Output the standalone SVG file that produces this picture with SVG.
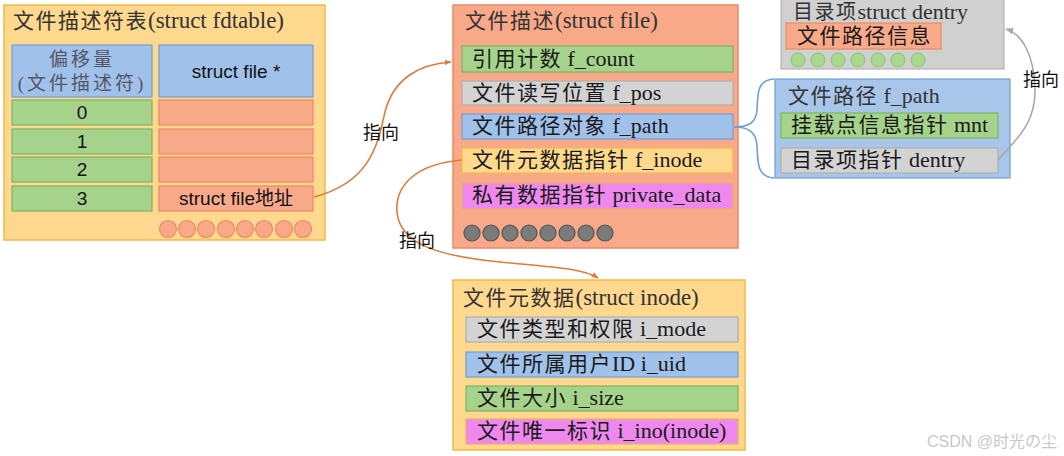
<svg xmlns="http://www.w3.org/2000/svg" width="1064" height="456" viewBox="0 0 1064 456">
<defs>
<style>
.t{font-family:"Liberation Serif","Noto Sans CJK SC",serif;font-size:21px;fill:#1a1a1a}
.ts{font-family:"Liberation Serif","Noto Sans CJK SC",serif;font-size:21px;fill:#333}
.c{letter-spacing:1.5px}
.ct{letter-spacing:1.5px}
.L{font-size:22px}
.LT{font-size:23px}
.a{font-family:"Liberation Sans","Noto Sans CJK SC",sans-serif;font-size:19px;fill:#111}
.lbl{font-family:"Noto Sans CJK SC","Liberation Sans",sans-serif;font-size:18px;fill:#111}
.yel{fill:#fdd88e;stroke:#f4b847;stroke-width:1.5}
.sal{fill:#f8a98a;stroke:#ec8a62;stroke-width:1.2}
.grn{fill:#a6d38b;stroke:#7fb562;stroke-width:1.2}
.blu{fill:#9fc1ea;stroke:#73a1d6;stroke-width:1.2}
.gry{fill:#d3d3d3;stroke:#b0b0b0;stroke-width:1.2}
.mag{fill:#ee88ee;stroke:#f2ad62;stroke-width:1.2}
.yrow{fill:#fdd98e;stroke:#f4b847;stroke-width:1.2}
.c1{fill:#f8a98a;stroke:#ec8a62;stroke-width:1.2}
.c2{fill:#7b7b7b;stroke:#555;stroke-width:1.2}
.c3{fill:#a9d78e;stroke:#8cc26f;stroke-width:1}
.or{fill:none;stroke:#e07b39;stroke-width:1.6}
.gr{fill:none;stroke:#a8a8a8;stroke-width:1.6}
</style>
<marker id="mo" viewBox="0 0 10 10" refX="9" refY="5" markerWidth="7" markerHeight="7" orient="auto" markerUnits="userSpaceOnUse"><path d="M0,1 L10,5 L0,9 z" fill="#e07b39"/></marker>
<marker id="mg" viewBox="0 0 10 10" refX="9" refY="5" markerWidth="8" markerHeight="8" orient="auto" markerUnits="userSpaceOnUse"><path d="M0,1 L10,5 L0,9 z" fill="#a8a8a8"/></marker>
</defs>
<rect width="1064" height="456" fill="#fff"/>

<g id="fdtable">
<rect class="yel" x="4" y="5" width="321" height="235"/>
<text class="ts" x="13" y="28"><tspan class="ct">文件描述符表</tspan><tspan class="LT">(struct fdtable)</tspan></text>
<rect class="blu" x="12" y="45" width="140" height="52"/>
<text class="t" x="82" y="66" text-anchor="middle" style="fill:#556;font-size:19px;letter-spacing:3px">偏移量</text>
<text class="t" x="82" y="90" text-anchor="middle" style="fill:#556;font-size:19px;letter-spacing:3px">(文件描述符)</text>
<rect class="blu" x="159" y="45" width="154" height="52"/>
<text class="a" x="236" y="78" text-anchor="middle">struct file *</text>
<rect class="grn" x="12" y="100" width="140" height="25"/><text class="a" x="82" y="119" text-anchor="middle">0</text>
<rect class="grn" x="12" y="129" width="140" height="25"/><text class="a" x="82" y="148" text-anchor="middle">1</text>
<rect class="grn" x="12" y="157" width="140" height="25"/><text class="a" x="82" y="176" text-anchor="middle">2</text>
<rect class="grn" x="12" y="186" width="140" height="25"/><text class="a" x="82" y="205" text-anchor="middle">3</text>
<rect class="sal" x="159" y="100" width="154" height="25"/>
<rect class="sal" x="159" y="129" width="154" height="25"/>
<rect class="sal" x="159" y="157" width="154" height="25"/>
<rect class="sal" x="159" y="186" width="154" height="25"/>
<text class="a" x="236" y="205" text-anchor="middle">struct file地址</text>
<circle class="c1" cx="168" cy="229" r="8.5"/><circle class="c1" cx="187" cy="229" r="8.5"/><circle class="c1" cx="206" cy="229" r="8.5"/><circle class="c1" cx="226" cy="229" r="8.5"/><circle class="c1" cx="245" cy="229" r="8.5"/><circle class="c1" cx="264" cy="229" r="8.5"/><circle class="c1" cx="284" cy="229" r="8.5"/><circle class="c1" cx="303" cy="229" r="8.5"/>
</g>

<g id="file">
<rect class="sal" x="453" y="5" width="285" height="243" style="stroke-width:1.5"/>
<text class="ts" x="465" y="28"><tspan class="ct">文件描述</tspan><tspan class="LT">(struct file)</tspan></text>
<rect class="grn" x="462" y="46" width="271" height="26"/><text class="t" x="472" y="66"><tspan class="c">引用计数</tspan><tspan class="L"> f_count</tspan></text>
<rect class="gry" x="462" y="81" width="271" height="24"/><text class="t" x="472" y="100"><tspan class="c">文件读写位置</tspan><tspan class="L"> f_pos</tspan></text>
<rect class="blu" x="462" y="114" width="271" height="25"/><text class="t" x="472" y="133"><tspan class="c">文件路径对象</tspan><tspan class="L"> f_path</tspan></text>
<rect class="yrow" x="462" y="148" width="271" height="25"/><text class="t" x="472" y="167"><tspan class="c">文件元数据指针</tspan><tspan class="L"> f_inode</tspan></text>
<rect class="mag" x="462" y="183" width="271" height="26"/><text class="t" x="472" y="202"><tspan class="c">私有数据指针</tspan><tspan class="L"> private_data</tspan></text>
<circle class="c2" cx="472" cy="233" r="8"/><circle class="c2" cx="491" cy="233" r="8"/><circle class="c2" cx="510" cy="233" r="8"/><circle class="c2" cx="529" cy="233" r="8"/><circle class="c2" cx="548" cy="233" r="8"/><circle class="c2" cx="567" cy="233" r="8"/><circle class="c2" cx="586" cy="233" r="8"/><circle class="c2" cx="605" cy="233" r="8"/>
</g>

<g id="dentry">
<rect class="gry" x="781" y="-10" width="223" height="79" style="fill:#d0d0d0;stroke:#b5b5b5"/>
<text class="ts" x="793" y="19" style="font-size:20px"><tspan class="ct">目录项</tspan><tspan class="L">struct dentry</tspan></text>
<rect class="sal" x="786" y="23" width="155" height="26"/>
<text class="t" x="797" y="43"><tspan class="c">文件路径信息</tspan></text>
<circle class="c3" cx="798" cy="60" r="7"/><circle class="c3" cx="818" cy="60" r="7"/><circle class="c3" cx="838" cy="60" r="7"/><circle class="c3" cx="858" cy="60" r="7"/><circle class="c3" cx="878" cy="60" r="7"/><circle class="c3" cx="898" cy="60" r="7"/><circle class="c3" cx="918" cy="60" r="7"/>
</g>

<g id="fpath">
<rect x="775" y="79" width="235" height="99" fill="#a8c6ea" stroke="#6e9fd6" stroke-width="1.2"/>
<text class="ts" x="788" y="103"><tspan class="ct">文件路径</tspan><tspan class="L"> f_path</tspan></text>
<rect class="grn" x="781" y="113" width="217" height="25"/><text class="t" x="791" y="132"><tspan class="c">挂载点信息指针</tspan><tspan class="L"> mnt</tspan></text>
<rect class="gry" x="781" y="148" width="217" height="25"/><text class="t" x="791" y="167"><tspan class="c">目录项指针</tspan><tspan class="L"> dentry</tspan></text>
</g>

<g id="inode">
<rect class="yel" x="453" y="280" width="292" height="170"/>
<text class="ts" x="463" y="305"><tspan class="ct">文件元数据</tspan><tspan class="LT">(struct inode)</tspan></text>
<rect class="gry" x="466" y="317" width="272" height="25"/><text class="t" x="477" y="336"><tspan class="c">文件类型和权限</tspan><tspan class="L"> i_mode</tspan></text>
<rect class="blu" x="466" y="352" width="272" height="25"/><text class="t" x="477" y="371"><tspan class="c">文件所属用户</tspan><tspan class="L">ID i_uid</tspan></text>
<rect class="grn" x="466" y="386" width="272" height="25"/><text class="t" x="477" y="405"><tspan class="c">文件大小</tspan><tspan class="L"> i_size</tspan></text>
<rect class="mag" x="466" y="419" width="272" height="25"/><text class="t" x="477" y="438"><tspan class="c">文件唯一标识</tspan><tspan class="L"> i_ino(inode)</tspan></text>
</g>

<g id="connectors">
<path class="or" d="M 314 197 C 372 182, 378 142, 385 112 C 393 80, 418 64, 451 62" marker-end="url(#mo)"/>
<text class="lbl" x="381" y="139" text-anchor="middle">指向</text>
<path class="or" d="M 462 160 C 415 164, 395 186, 397 212 C 400 245, 440 256, 500 262 C 552 267, 582 268, 598 278" marker-end="url(#mo)"/>
<text class="lbl" x="417" y="247" text-anchor="middle">指向</text>
<path d="M 774 79 C 756 80, 758 96, 757 110 C 756 122, 750 127, 734 127 C 750 127, 756 133, 757 146 C 758 160, 756 177, 774 178" fill="none" stroke="#6e9fd6" stroke-width="1.6"/>
<path class="gr" d="M 998 160 C 1015 140, 1036 125, 1035 88 C 1034 55, 1022 34, 1006 29" marker-end="url(#mg)"/>
<text class="lbl" x="1041" y="86" text-anchor="middle">指向</text>
</g>

<text x="1057" y="447" text-anchor="end" font-family="Liberation Sans, Noto Sans CJK JP, sans-serif" font-size="16" fill="#c8c8c8">CSDN @时光の尘</text>
</svg>
